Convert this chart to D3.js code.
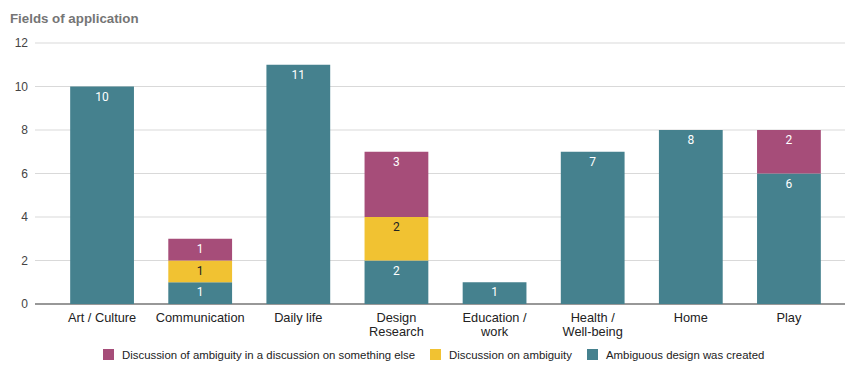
<!DOCTYPE html>
<html>
<head>
<meta charset="utf-8">
<script src="https://cdn.jsdelivr.net/npm/d3@7"></script>
<style>
  body { margin: 0; background: #fff; }
  svg { display: block; font-family: "Liberation Sans", Arial, sans-serif; }
</style>
</head>
<body>
<svg id="chart" width="845" height="365"></svg>
<script>
// Fields of application, stacked by kind of contribution
const categories = ["Art / Culture", "Communication", "Daily life", "Design\nResearch",
  "Education /\nwork", "Health /\nWell-being", "Home", "Play"];
const seriesNames = ["Ambiguous design was created", "Discussion on ambiguity",
  "Discussion of ambiguity in a discussion on something else"];
const created = [10, 1, 11, 2, 1, 7, 8, 6];
const discussion = [0, 1, 0, 2, 0, 0, 0, 0];
const elsewhere = [0, 1, 0, 3, 0, 0, 0, 2];
const yTicks = [0, 2, 4, 6, 8, 10, 12];
const colors = ["#45818e", "#f1c232", "#a64d79"];
const labelColors = ["#ffffff", "#222222", "#ffffff"];

const svg = d3.select("#chart");
const plotLeft = 35, plotRight = 845;
const yTop = 43, yBottom = 304;

const rows = categories.map((c, i) => ({ cat: c, s0: created[i], s1: discussion[i], s2: elsewhere[i] }));
const layers = d3.stack().keys(["s0", "s1", "s2"])(rows);

const x = d3.scaleBand().domain(categories).range([53, 838]).paddingInner(0.35).paddingOuter(0.175);
const y = d3.scaleLinear().domain([0, 12]).range([yBottom, yTop]);

// title
svg.append("text").attr("x", 10).attr("y", 23)
  .attr("font-size", 13.3).attr("font-weight", "bold").attr("fill", "#757575")
  .text("Fields of application");

// gridlines + y labels
const yAxis = svg.append("g");
yTicks.forEach(t => {
  yAxis.append("line").attr("x1", plotLeft).attr("x2", plotRight)
    .attr("y1", y(t)).attr("y2", y(t))
    .attr("stroke", t === 0 ? "#333" : "#d9d9d9").attr("stroke-width", t === 0 ? 1.2 : 1);
  yAxis.append("text").attr("x", 28).attr("y", y(t)).attr("dy", "0.35em")
    .attr("text-anchor", "end").attr("font-size", 12).attr("fill", "#444").text(t);
});

// bars
layers.forEach((layer, li) => {
  const g = svg.append("g");
  layer.forEach((d, i) => {
    if (d[1] - d[0] <= 0) return;
    g.append("rect")
      .attr("x", x(categories[i])).attr("width", x.bandwidth())
      .attr("y", y(d[1])).attr("height", y(d[0]) - y(d[1]))
      .attr("fill", colors[li]);
    g.append("text")
      .attr("x", x(categories[i]) + x.bandwidth() / 2)
      .attr("y", y(d[1]) + 14)
      .attr("text-anchor", "middle").attr("font-size", 12)
      .attr("font-family", "Roboto, sans-serif")
      .attr("fill", labelColors[li])
      .text(d[1] - d[0]);
  });
});

// x axis labels
categories.forEach(c => {
  const lines = c.split("\n");
  const cx = x(c) + x.bandwidth() / 2;
  lines.forEach((l, k) => svg.append("text").attr("x", cx).attr("y", 322 + k * 14)
    .attr("text-anchor", "middle").attr("font-size", 12.8).attr("fill", "#222").text(l));
});

// legend
const legendItems = [
  { name: seriesNames[2], color: colors[2], x: 103 },
  { name: seriesNames[1], color: colors[1], x: 430 },
  { name: seriesNames[0], color: colors[0], x: 587 }
];
legendItems.forEach(it => {
  svg.append("rect").attr("x", it.x).attr("y", 349).attr("width", 11).attr("height", 11)
    .attr("fill", it.color);
  svg.append("text").attr("x", it.x + 19).attr("y", 355).attr("dy", "0.35em")
    .attr("font-size", 11.4).attr("fill", "#222").text(it.name);
});
</script>
</body>
</html>
